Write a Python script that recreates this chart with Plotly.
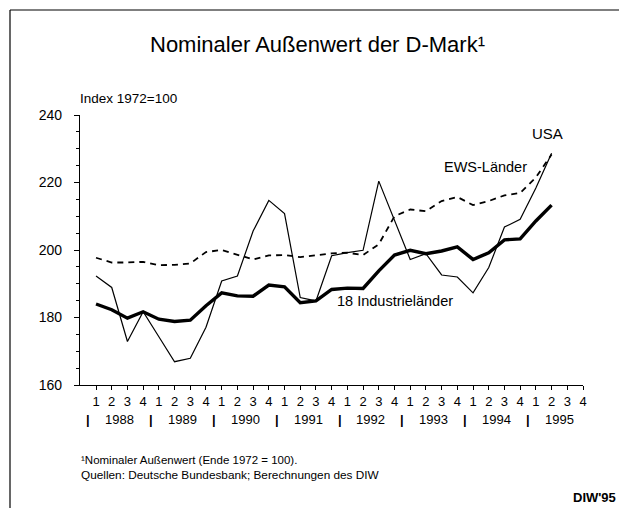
import plotly.graph_objects as go

years = ["1988", "1989", "1990", "1991", "1992", "1993", "1994", "1995"]
quarter_labels = ["1", "2", "3", "4"] * len(years)

usa = [192.3, 188.9, 172.9, 181.7, 174.3, 166.9, 167.9, 177.1, 190.8, 192.3,
       205.6, 214.7, 210.8, 185.9, 184.9, 198.3, 199.2, 199.9, 220.4, 208.8,
       197.2, 198.9, 192.6, 192.0, 187.3, 194.8, 206.8, 209.1, 218.4, 228.7]
ews = [197.7, 196.3, 196.3, 196.5, 195.5, 195.6, 196.0, 199.4, 200.0, 198.7,
       197.2, 198.4, 198.5, 197.9, 198.4, 199.0, 199.2, 198.5, 201.7, 210.0,
       212.0, 211.5, 214.5, 215.7, 213.3, 214.5, 216.2, 216.9, 221.5, 228.3]
ind18 = [184.0, 182.3, 179.8, 181.7, 179.5, 178.8, 179.2, 183.5, 187.3, 186.4,
         186.3, 189.6, 189.1, 184.4, 184.9, 188.3, 188.7, 188.6, 193.8, 198.5,
         199.9, 198.9, 199.7, 200.9, 197.2, 199.2, 203.0, 203.3, 208.6, 213.3]

yticks = [160, 180, 200, 220, 240]

# page body has an 8px offset; figure is sized to fill the rest of the window
OFF = 8
W, H = 627 - OFF, 508 - OFF
L, T = 80 - OFF, 115 - OFF
PW, PH = 503, 270
R, B = W - L - PW, H - T - PH


def px(x):
    return (x - OFF - L) / PW


def py(y):
    return (H - B - (y - OFF)) / PH


FONT = "Liberation Sans, Arial, sans-serif"
idx = list(range(len(usa)))

fig = go.Figure()
fig.add_trace(go.Scatter(x=idx, y=ews, mode="lines",
                         line=dict(color="black", width=1.8, dash="6px,5px"),
                         name="EWS-Länder"))
fig.add_trace(go.Scatter(x=idx, y=usa, mode="lines",
                         line=dict(color="black", width=1.2), name="USA"))
fig.add_trace(go.Scatter(x=idx, y=ind18, mode="lines",
                         line=dict(color="black", width=3.4),
                         name="18 Industrieländer"))

ann = []
ann.append(dict(x=px(317), y=py(45), xref="paper", yref="paper",
                text="Nominaler Außenwert der D-Mark¹", showarrow=False,
                font=dict(size=22, family=FONT, color="black"),
                xanchor="center", yanchor="middle"))
ann.append(dict(x=px(78), y=py(99), xref="paper", yref="paper",
                text="Index 1972=100", showarrow=False,
                font=dict(size=13.5, family=FONT, color="black"),
                xanchor="left", yanchor="middle"))
ann.append(dict(x=px(547), y=py(133), xref="paper", yref="paper", text="USA",
                showarrow=False, font=dict(size=15, family=FONT, color="black"),
                xanchor="center", yanchor="middle"))
ann.append(dict(x=px(529), y=py(167), xref="paper", yref="paper", text="EWS-Länder",
                showarrow=False, font=dict(size=14.5, family=FONT, color="black"),
                xanchor="right", yanchor="middle"))
ann.append(dict(x=px(335), y=py(301), xref="paper", yref="paper",
                text="18 Industrieländer",
                showarrow=False, font=dict(size=14.5, family=FONT, color="black"),
                xanchor="left", yanchor="middle"))
for k, yr in enumerate(years):
    ann.append(dict(x=4 * k - 0.5, y=py(419), xref="x", yref="paper", text="<b>|</b>",
                    showarrow=False, font=dict(size=13, family=FONT, color="black"),
                    xanchor="center", yanchor="middle"))
    ann.append(dict(x=4 * k + 1.5, y=py(419), xref="x", yref="paper", text=yr,
                    showarrow=False, font=dict(size=13, family=FONT, color="black"),
                    xanchor="center", yanchor="middle"))
ann.append(dict(x=px(79), y=py(460), xref="paper", yref="paper",
                text="¹Nominaler Außenwert (Ende 1972 = 100).", showarrow=False,
                font=dict(size=11.5, family=FONT, color="black"),
                xanchor="left", yanchor="middle"))
ann.append(dict(x=px(79), y=py(475), xref="paper", yref="paper",
                text="Quellen: Deutsche Bundesbank; Berechnungen des DIW", showarrow=False,
                font=dict(size=11.8, family=FONT, color="black"),
                xanchor="left", yanchor="middle"))
ann.append(dict(x=px(618), y=py(497), xref="paper", yref="paper",
                text="<b>DIW'95</b>", showarrow=False,
                font=dict(size=13, family=FONT, color="black"),
                xanchor="right", yanchor="middle"))

shapes = [
    dict(type="line", xref="paper", yref="paper", x0=px(10), x1=px(10), y0=py(10), y1=py(530),
         line=dict(color="black", width=1.2)),
    dict(type="line", xref="paper", yref="paper", x0=px(10), x1=px(624), y0=py(10), y1=py(10),
         line=dict(color="black", width=1.2)),
    dict(type="line", xref="paper", yref="paper", x0=px(624), x1=px(624), y0=py(10), y1=py(530),
         line=dict(color="black", width=1.2)),
]

fig.update_layout(
    width=W, height=H,
    margin=dict(l=L, r=R, t=T, b=B, pad=0),
    paper_bgcolor="white", plot_bgcolor="white",
    showlegend=False,
    annotations=ann, shapes=shapes,
    font=dict(family=FONT, color="black"),
)
fig.update_xaxes(range=[-1.02, 31], tickmode="array", tickvals=list(range(len(quarter_labels))),
                 ticktext=quarter_labels, ticks="outside", ticklen=4, tickwidth=1,
                 tickcolor="black", showline=True, linecolor="black", linewidth=1.2,
                 showgrid=False, zeroline=False, tickangle=0,
                 tickfont=dict(size=13, family=FONT, color="black"))
fig.update_yaxes(range=[160, 240], tickmode="array", tickvals=yticks,
                 ticktext=[str(v) for v in yticks], ticks="outside", ticklen=5, tickwidth=1,
                 tickcolor="black", showline=True, linecolor="black", linewidth=1.2,
                 showgrid=False, zeroline=False, ticklabelstandoff=9,
                 minor=dict(dtick=5, ticks="outside", ticklen=3, tickcolor="black"),
                 tickfont=dict(size=14, family=FONT, color="black"))

fig.write_html("out.html")
